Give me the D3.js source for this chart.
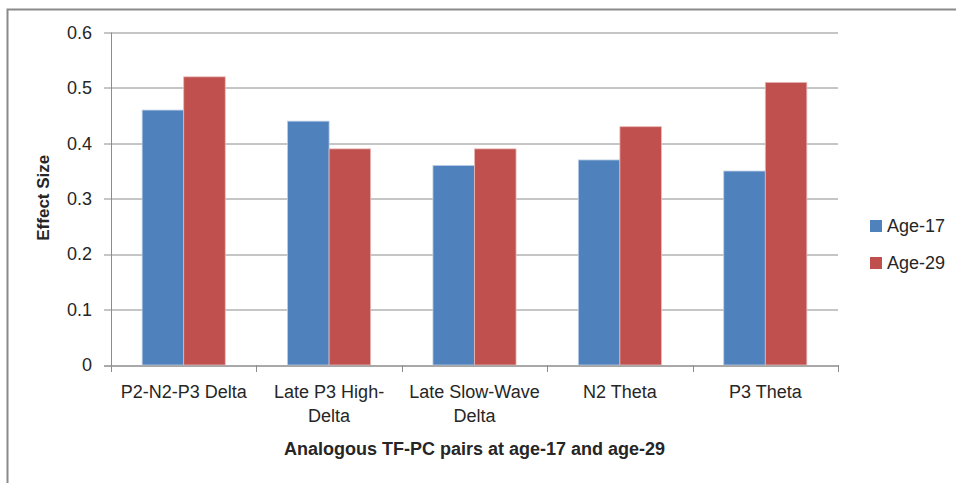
<!DOCTYPE html>
<html>
<head>
<meta charset="utf-8">
<script src="https://cdn.jsdelivr.net/npm/d3@7"></script>
<style>
  body { margin: 0; background: #fff; }
  text { font-family: "Liberation Sans", Arial, sans-serif; fill: #262626; }
</style>
</head>
<body>
<div id="chart-area"></div>
<script>
// data
const categories = [
  ["P2-N2-P3 Delta"],
  ["Late P3 High-", "Delta"],
  ["Late Slow-Wave", "Delta"],
  ["N2 Theta"],
  ["P3 Theta"]
];
const seriesNames = ["Age-17", "Age-29"];
const age17 = [0.46, 0.44, 0.36, 0.37, 0.35];
const age29 = [0.52, 0.39, 0.39, 0.43, 0.51];
const yTicks = [0, 0.1, 0.2, 0.3, 0.4, 0.5, 0.6];
const colors = ["#4F81BD", "#C0504D"];

const W = 956, H = 483;
const margin = { left: 111, right: 118, top: 32.5, bottom: 118 };
const width = W - margin.left - margin.right,
  height = H - margin.top - margin.bottom;

const svg = d3.select("#chart-area")
  .append("svg")
  .attr("width", W)
  .attr("height", H);

// outer chart border
svg.append("rect")
  .attr("x", 7.5).attr("y", 9.5)
  .attr("width", 980).attr("height", 500)
  .attr("fill", "none")
  .attr("stroke", "#8a8a8a")
  .attr("stroke-width", 2);

const g = svg.append("g")
  .attr("transform", "translate(" + margin.left + ", " + margin.top + ")");

const keys = categories.map((c, i) => i);
const x = d3.scaleBand()
  .domain(keys)
  .range([0, width])
  .paddingInner(0)
  .paddingOuter(0);

const x1 = d3.scaleBand()
  .domain([0, 1])
  .range([0, x.bandwidth()])
  .paddingInner(0)
  .paddingOuter(0.75);

const y = d3.scaleLinear()
  .domain([0, 0.6])
  .range([height, 0]);

// gridlines + y ticks
g.selectAll(".grid")
  .data(yTicks)
  .enter()
  .append("line")
  .attr("x1", -7)
  .attr("x2", width)
  .attr("y1", (d) => Math.round(y(d)) + 0.5)
  .attr("y2", (d) => Math.round(y(d)) + 0.5)
  .attr("stroke", "#8c8c8c")
  .attr("stroke-width", 1);

// Y axis labels
const yAxisCall = d3.axisLeft(y)
  .tickValues(yTicks)
  .tickSize(0)
  .tickPadding(19)
  .tickFormat((d) => d === 0 ? "0" : d3.format(".1f")(d));
const yAxis = g.append("g")
  .attr("class", "y-axis")
  .call(yAxisCall);
yAxis.select(".domain").remove();
yAxis.selectAll("text")
  .attr("font-size", "18px")
  .attr("font-family", "Liberation Sans, Arial, sans-serif")
  .attr("fill", "#262626");

// y axis line
g.append("line")
  .attr("x1", 0.5).attr("x2", 0.5)
  .attr("y1", 0).attr("y2", height)
  .attr("stroke", "#8c8c8c");

// bars
const seriesData = [age17, age29];
seriesData.forEach((vals, s) => {
  g.selectAll(".bar-" + s)
    .data(vals)
    .enter()
    .append("rect")
    .attr("class", "bar-" + s)
    .attr("x", (d, i) => x(i) + x1(s))
    .attr("y", (d) => y(d))
    .attr("width", x1.bandwidth())
    .attr("height", (d) => height - y(d))
    .attr("fill", colors[s])
    .attr("stroke", s === 0 ? "#b9cde5" : "#e6b9b8")
    .attr("stroke-width", 0.8);
});

// x axis line and ticks
g.append("line")
  .attr("x1", -7).attr("x2", width)
  .attr("y1", Math.round(height) + 0.5).attr("y2", Math.round(height) + 0.5)
  .attr("stroke", "#8c8c8c");
g.selectAll(".xtick")
  .data(d3.range(categories.length + 1))
  .enter()
  .append("line")
  .attr("x1", (d) => Math.round(d * x.bandwidth()) + 0.5)
  .attr("x2", (d) => Math.round(d * x.bandwidth()) + 0.5)
  .attr("y1", height)
  .attr("y2", height + 7)
  .attr("stroke", "#8c8c8c");

// category labels
const catLabels = g.selectAll(".cat")
  .data(categories)
  .enter()
  .append("text")
  .attr("class", "cat")
  .attr("text-anchor", "middle")
  .attr("font-size", "18px")
  .attr("transform", (d, i) => "translate(" + (x(i) + x.bandwidth() / 2) + ", " + (height + 33) + ")");
catLabels.selectAll("tspan")
  .data((d) => d)
  .enter()
  .append("tspan")
  .attr("x", 0)
  .attr("y", (d, i) => i * 24)
  .text((d) => d);

// X Label
g.append("text")
  .attr("x", width / 2)
  .attr("y", height + 90)
  .attr("font-size", "18px")
  .attr("font-weight", "bold")
  .attr("text-anchor", "middle")
  .attr("fill", "#000")
  .text("Analogous TF-PC pairs at age-17 and age-29");

// Y Label
g.append("text")
  .attr("x", -(height / 2) + 1)
  .attr("y", -62)
  .attr("font-size", "17px")
  .attr("font-weight", "bold")
  .attr("text-anchor", "middle")
  .attr("transform", "rotate(-90)")
  .attr("fill", "#000")
  .text("Effect Size");

// legend
const legend = svg.append("g")
  .attr("transform", "translate(870, 220)");
const items = legend.selectAll(".item")
  .data(seriesNames)
  .enter()
  .append("g")
  .attr("transform", (d, i) => "translate(0, " + (i * 37) + ")");
items.append("rect")
  .attr("width", 12)
  .attr("height", 12)
  .attr("fill", (d, i) => colors[i]);
items.append("text")
  .attr("x", 17)
  .attr("y", 12)
  .attr("font-size", "18px")
  .text((d) => d);
</script>
</body>
</html>
